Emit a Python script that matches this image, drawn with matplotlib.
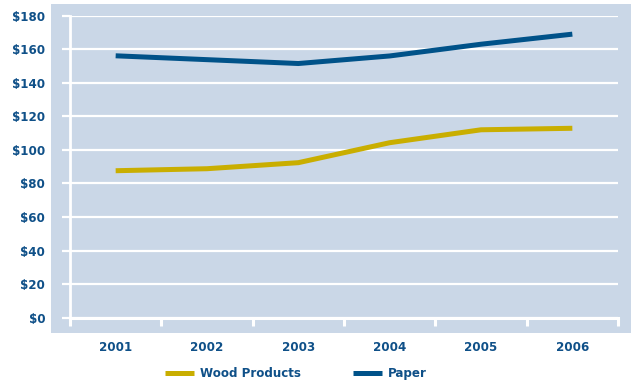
import matplotlib
matplotlib.use("Agg")
import matplotlib.pyplot as plt
from matplotlib.patches import Rectangle
from matplotlib.lines import Line2D

years = ["2001", "2002", "2003", "2004", "2005", "2006"]
wood = [87.6, 88.8, 92.4, 104.3, 112, 112.9]
paper = [156.1, 153.8, 151.5, 156, 163, 169]
yticks = [0, 20, 40, 60, 80, 100, 120, 140, 160, 180]
ylabels = ["$%d" % v for v in yticks]

W, H = 631, 381
fig = plt.figure(figsize=(W / 100, H / 100), dpi=100)
fig.patch.set_facecolor("white")

PANEL = "#cad7e7"
NAVY = "#005289"
GOLD = "#c9ae00"
TXT = "#0f5088"
FONT = "DejaVu Sans"
FS = 8.6

def fx(px): return px / W
def fy(py): return 1 - py / H

panel = Rectangle((fx(51), fy(333)), fx(631) - fx(51), fy(4) - fy(333),
                  transform=fig.transFigure, facecolor=PANEL, edgecolor="none", zorder=-10)
fig.add_artist(panel)

x0, x1 = 70, 618
ytop, ybot = 15.7, 317.7
ax = fig.add_axes([fx(x0), fy(ybot), fx(x1) - fx(x0), fy(ytop) - fy(ybot)])
ax.set_zorder(1)
ax.patch.set_alpha(0)
xs = list(range(len(years)))
ax.set_xlim(-0.5, len(years) - 0.5)
ax.set_ylim(0, 180)

ax.plot(xs, wood, color=GOLD, lw=3.6, solid_capstyle="butt", zorder=3, label="Wood Products")
ax.plot(xs, paper, color=NAVY, lw=3.6, solid_capstyle="butt", zorder=3, label="Paper")

for s in ["top", "right"]:
    ax.spines[s].set_visible(False)
ax.spines["left"].set_color("white")
ax.spines["left"].set_linewidth(2)
ax.spines["bottom"].set_color("white")
ax.spines["bottom"].set_linewidth(2.2)

ax.set_yticks(yticks)
ax.set_yticklabels(ylabels)
ax.yaxis.grid(True, color="white", lw=1.6)
ax.set_axisbelow(True)
ax.tick_params(axis="y", direction="out", length=5.8, width=1.6, color="white", pad=12,
               labelcolor=TXT, labelsize=FS)

ax.set_xticks([i - 0.5 for i in range(len(years) + 1)])
ax.set_xticklabels([])
ax.set_xticks(xs, minor=True)
ax.set_xticklabels(years, minor=True)
ax.tick_params(axis="x", which="major", direction="out", length=5.5, width=2.2, color="white")
ax.tick_params(axis="x", which="minor", length=0, pad=17, labelcolor=TXT, labelsize=FS)

for lab in ax.get_xticklabels(minor=True) + ax.get_yticklabels():
    lab.set_fontweight("bold")
    lab.set_family(FONT)

handles = [Line2D([], [], color=GOLD, lw=3.6, solid_capstyle="butt"),
           Line2D([], [], color=NAVY, lw=3.6, solid_capstyle="butt")]
leg = fig.legend(handles, ["Wood Products", "Paper"], ncol=2, frameon=False,
                 loc="center left", bbox_to_anchor=(fx(165), fy(373.5)),
                 handlelength=2.45, handletextpad=0.5, columnspacing=4.3,
                 prop={"family": FONT, "weight": "bold", "size": FS}, borderpad=0, borderaxespad=0)
for t in leg.get_texts():
    t.set_color(TXT)

fig.savefig("out.png", dpi=100)
